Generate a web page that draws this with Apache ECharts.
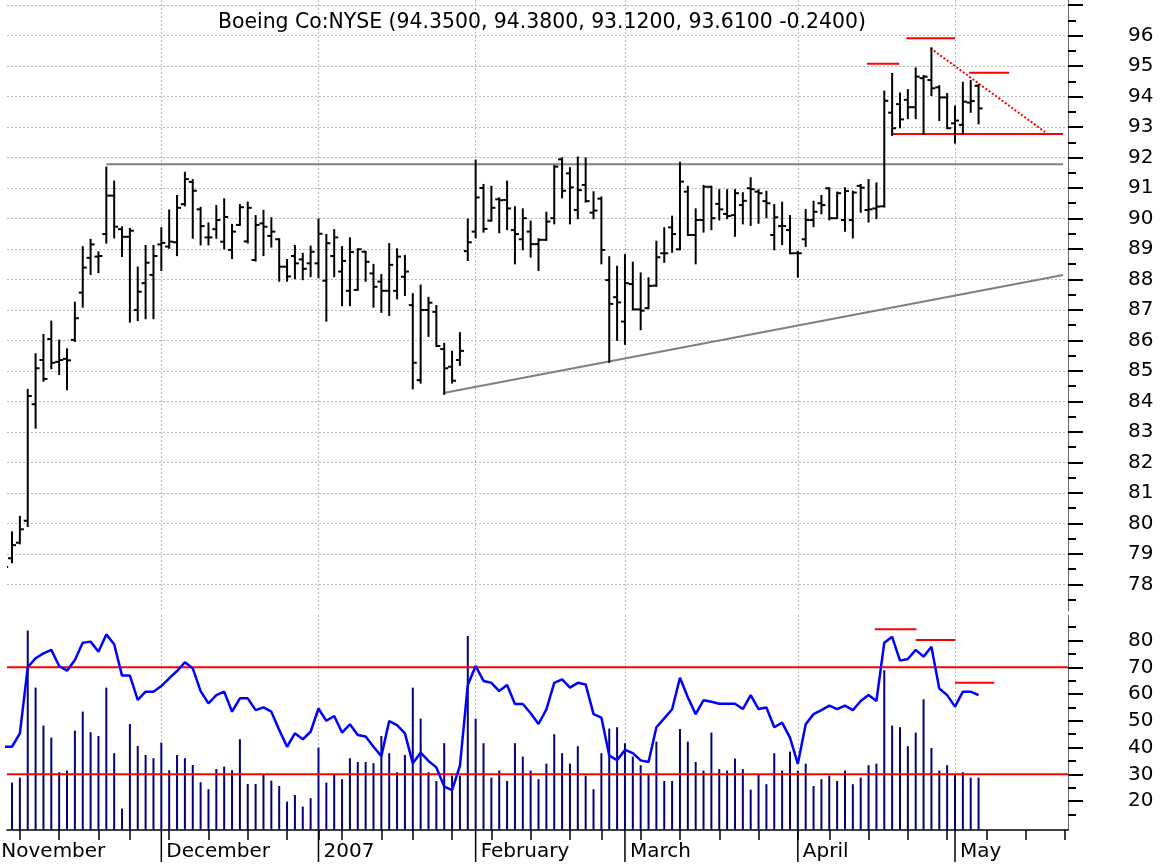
<!DOCTYPE html>
<html>
<head>
<meta charset="utf-8">
<title>Boeing Co:NYSE</title>
<script src="https://cdn.jsdelivr.net/npm/echarts@6/dist/echarts.min.js"></script>
<style>
html, body { margin: 0; padding: 0; background: #fff; }
#chart { width: 1163px; height: 867px; }
</style>
</head>
<body>
<div id="chart"></div>
<script>
// trading days, by month (categories of the x axis)
var nov06 = [1, 2, 3, 6, 7, 8, 9, 10, 13, 14, 15, 16, 17, 20, 21, 22, 24, 27, 28, 29, 30];
var dec06 = [1, 4, 5, 6, 7, 8, 11, 12, 13, 14, 15, 18, 19, 20, 21, 22, 26, 27, 28, 29];
var jan07 = [3, 4, 5, 8, 9, 10, 11, 12, 16, 17, 18, 19, 22, 23, 24, 25, 26, 29, 30, 31];
var feb07 = [1, 2, 5, 6, 7, 8, 9, 12, 13, 14, 15, 16, 20, 21, 22, 23, 26, 27, 28];
var mar07 = [1, 2, 5, 6, 7, 8, 9, 12, 13, 14, 15, 16, 19, 20, 21, 22, 23, 26, 27, 28, 29, 30];
var apr07 = [2, 3, 4, 5, 9, 10, 11, 12, 13, 16, 17, 18, 19, 20, 23, 24, 25, 26, 27, 30];
var may07 = [1, 2, 3, 4, 7, 8, 9, 10, 11, 14, 15, 16, 17, 18, 21, 22, 23];

// first bar of the data is Nov 2 (index 1)
var firstBar = 1;

var opens = [
    78.80, 78.86, 79.37, 80.09, 83.91, 85.36, 86.05, 85.30, 85.40, 86.02,
    87.57, 88.71, 88.75, 89.49, 90.75, 89.65, 89.40, 87.00, 87.88, 88.15,
    89.15, 89.08, 89.22, 90.47, 91.20, 90.30, 89.38, 89.65, 89.24, 88.97,
    89.79, 89.25, 88.64, 89.84, 89.43, 89.32, 88.42, 88.77, 88.66, 88.53,
    88.53, 87.96, 88.77, 88.26, 87.63, 87.66, 88.91, 88.20, 87.93, 87.63,
    87.63, 88.09, 87.16, 84.70, 87.00, 86.94, 85.72, 85.14, 85.36, 88.93,
    89.57, 91.00, 89.93, 90.63, 90.61, 89.62, 89.32, 89.57, 89.16, 89.30,
    90.01, 91.94, 91.48, 90.28, 91.10, 90.19, 90.65, 87.98, 87.42, 86.62,
    87.85, 87.02, 87.06, 87.80, 88.86, 89.71, 88.99, 90.88, 89.46, 89.95,
    91.04, 90.48, 90.15, 90.11, 90.44, 90.99, 90.88, 90.57, 89.46, 89.75,
    89.62, 88.86, 89.32, 89.95, 90.50, 90.99, 90.01, 89.95, 89.95, 91.07,
    90.28, 90.33, 90.40, 93.47, 93.75, 93.89, 93.65, 94.60, 94.54, 94.30,
    93.97, 93.12, 93.07, 93.80, 94.35
];
var highs = [
    79.00, 79.71, 80.22, 84.38, 85.55, 86.18, 86.62, 86.00, 85.71, 87.24,
    89.06, 89.30, 88.89, 91.67, 91.21, 89.71, 89.66, 88.39, 89.10, 89.10,
    89.68, 90.26, 90.74, 91.50, 91.26, 90.35, 89.84, 90.41, 90.63, 89.79,
    90.44, 90.52, 90.08, 90.25, 90.01, 89.32, 88.64, 89.10, 88.84, 89.08,
    89.97, 89.46, 89.62, 89.06, 89.35, 88.99, 88.91, 88.48, 88.15, 89.16,
    88.99, 88.77, 87.52, 87.80, 87.40, 87.13, 85.89, 85.63, 86.24, 89.97,
    91.90, 91.10, 91.04, 90.66, 91.21, 90.37, 90.30, 89.90, 89.32, 90.19,
    91.72, 91.97, 91.65, 92.00, 91.97, 90.86, 90.69, 88.73, 88.42, 88.80,
    88.55, 88.20, 88.04, 89.24, 89.68, 90.06, 91.83, 91.04, 90.30, 91.07,
    91.04, 90.93, 90.93, 90.93, 90.83, 91.32, 90.93, 90.88, 90.44, 90.52,
    90.08, 88.91, 90.28, 90.55, 90.74, 90.99, 90.85, 90.99, 90.88, 91.10,
    91.26, 91.15, 94.16, 94.74, 94.10, 94.21, 94.92, 94.67, 95.58, 94.34,
    94.08, 93.67, 94.45, 94.51, 94.38
];
var lows = [
    78.40, 78.73, 79.35, 79.92, 83.14, 84.68, 85.09, 84.90, 84.40, 85.98,
    87.11, 88.18, 88.24, 89.21, 89.38, 88.77, 86.62, 86.67, 86.73, 86.73,
    88.31, 89.04, 88.80, 90.43, 89.37, 89.15, 89.15, 89.37, 89.02, 88.70,
    89.79, 89.21, 88.62, 88.80, 89.08, 87.96, 87.96, 88.04, 88.01, 88.11,
    88.07, 86.65, 88.11, 87.16, 87.16, 87.66, 87.96, 87.11, 86.94, 86.84,
    87.38, 87.49, 84.43, 84.62, 86.15, 85.82, 84.25, 84.62, 85.20, 88.64,
    89.38, 89.57, 89.93, 89.55, 89.65, 88.53, 88.99, 88.75, 88.31, 89.30,
    89.84, 90.69, 89.84, 90.01, 90.55, 90.01, 88.53, 85.30, 86.02, 85.89,
    87.02, 86.37, 87.06, 87.79, 88.58, 88.91, 88.99, 89.46, 88.53, 89.57,
    89.65, 89.97, 90.01, 89.43, 89.84, 89.79, 89.86, 90.04, 88.99, 89.16,
    88.86, 88.09, 89.10, 89.75, 90.17, 89.97, 90.01, 89.60, 89.38, 90.22,
    89.90, 90.01, 90.39, 92.74, 92.99, 93.29, 93.29, 92.77, 94.05, 93.23,
    92.96, 92.49, 92.79, 93.50, 93.12
];
var closes = [
    78.57, 79.29, 79.81, 84.18, 85.09, 84.74, 85.27, 85.36, 85.35, 86.73,
    88.39, 89.15, 88.77, 90.75, 89.73, 89.40, 89.60, 87.60, 88.55, 88.77,
    89.20, 89.24, 90.35, 91.29, 90.91, 89.75, 89.38, 89.95, 90.05, 89.57,
    90.37, 90.35, 89.79, 89.73, 89.57, 88.42, 88.10, 88.53, 88.35, 88.91,
    89.50, 89.19, 89.38, 88.61, 88.90, 88.99, 88.58, 87.76, 87.63, 88.48,
    88.75, 88.26, 85.27, 87.00, 87.24, 85.82, 85.09, 84.68, 85.66, 89.22,
    90.69, 89.66, 90.35, 90.60, 90.33, 89.49, 90.01, 89.16, 89.30, 89.90,
    91.70, 90.91, 91.02, 90.93, 90.57, 90.26, 88.97, 87.20, 87.25, 87.88,
    87.02, 86.98, 87.79, 88.73, 88.86, 89.49, 91.21, 89.46, 89.95, 91.04,
    90.01, 90.30, 90.08, 90.83, 90.58, 90.96, 90.83, 90.50, 90.04, 89.75,
    88.86, 88.86, 89.95, 90.22, 90.44, 90.01, 90.83, 90.90, 90.85, 91.01,
    90.30, 90.39, 93.86, 92.96, 93.25, 93.65, 94.65, 94.65, 94.27, 93.97,
    92.96, 93.21, 93.83, 93.85, 93.61
];
// volume, millions of shares (first bar falls left of the chart)
var volumes = [
    null, 2.37, 2.62, 9.97, 7.12, 5.22, 4.62, 2.89, 2.97, 4.97,
    5.92, 4.89, 4.70, 7.12, 3.84, 1.07, 5.30, 4.20, 3.75, 3.59,
    4.37, 2.99, 3.75, 3.59, 3.25, 2.39, 2.04, 3.05, 3.17, 2.99,
    4.54, 2.30, 2.30, 2.80, 2.47, 2.20, 1.42, 1.75, 1.17, 1.59,
    4.12, 2.37, 2.80, 2.54, 3.59, 3.40, 3.40, 3.34, 4.70, 3.84,
    2.89, 3.75, 7.12, 5.57, 2.89, 2.45, 4.34, 2.72, 2.72, 9.70,
    5.57, 4.34, 2.62, 2.97, 2.45, 4.34, 3.67, 2.97, 2.54, 3.32,
    4.79, 3.84, 3.32, 4.19, 2.72, 2.04, 3.84, 5.07, 5.14, 4.34,
    3.67, 3.24, 2.80, 4.42, 2.45, 2.45, 5.05, 4.42, 3.40, 2.97,
    4.87, 3.05, 2.97, 3.57, 3.05, 2.02, 2.80, 2.29, 3.84, 2.97,
    3.92, 2.97, 3.32, 2.20, 2.54, 2.72, 2.45, 2.97, 2.29, 2.62,
    3.24, 3.32, 7.99, 5.22, 5.14, 4.19, 4.87, 6.54, 4.10, 2.97,
    3.24, 2.80, 2.89, 2.62, 2.62
];
var rsiValues = [
    40.3, 40.3, 45.3, 70.0, 73.4, 75.2, 76.5, 70.5, 68.7, 72.7,
    79.2, 79.6, 75.8, 82.3, 78.6, 66.9, 66.9, 57.8, 60.9, 60.9,
    63.0, 65.9, 68.6, 71.9, 69.6, 61.1, 56.5, 59.6, 60.9, 53.4,
    58.4, 58.4, 54.0, 55.0, 53.4, 46.6, 40.3, 45.3, 43.1, 45.9,
    54.6, 50.0, 51.8, 45.6, 48.7, 44.7, 44.1, 40.3, 36.8, 49.9,
    48.4, 45.3, 34.1, 38.1, 35.0, 32.6, 25.4, 24.1, 33.2, 63.4,
    70.5, 64.9, 64.2, 61.1, 63.4, 56.3, 56.3, 52.8, 48.8, 54.3,
    64.2, 65.5, 62.4, 64.2, 63.6, 52.5, 51.2, 37.0, 35.3, 39.1,
    37.9, 35.2, 34.6, 47.6, 50.9, 54.3, 66.1, 58.8, 52.5, 57.7,
    57.1, 56.4, 56.4, 56.4, 54.4, 59.6, 54.4, 55.0, 47.6, 49.3,
    43.7, 33.9, 48.7, 52.5, 54.0, 55.7, 54.4, 55.7, 54.0, 57.4,
    59.6, 57.4, 79.2, 81.4, 72.5, 73.1, 76.5, 74.0, 77.7, 62.1,
    59.6, 55.3, 60.9, 60.9, 59.6
];

// drawn studies, as [bar index, value] end points
var resistanceLine = [[14, 91.78], [135.75, 91.78]];
var trendLine = [[56.9, 84.28], [135.75, 88.15]];
var supportLine = [[114, 92.77], [135.75, 92.77]];
var wedgeLine = [[118.9, 95.58], [133.8, 92.77]];
var priceMarks = [
    [[110.8, 95.07], [114.9, 95.07]],
    [[115.8, 95.91], [122, 95.91]],
    [[123.8, 94.78], [128.9, 94.78]]
];
var rsiBands = [70, 30];
var rsiMarks = [
    [[111.8, 84.2], [117.1, 84.2]],
    [[117, 80.2], [122, 80.2]],
    [[122, 64.2], [127, 64.2]]
];

// axis ticks
var priceTicks = [78, 79, 80, 81, 82, 83, 84, 85, 86, 87, 88, 89, 90, 91, 92, 93, 94, 95, 96, 97];
var priceLabels = [78, 79, 80, 81, 82, 83, 84, 85, 86, 87, 88, 89, 90, 91, 92, 93, 94, 95, 96];
var priceMinorTicks = [77.5, 78.5, 79.5, 80.5, 81.5, 82.5, 83.5, 84.5, 85.5, 86.5, 87.5,
    88.5, 89.5, 90.5, 91.5, 92.5, 93.5, 94.5, 95.5, 96.5];
var rsiTicks = [20, 30, 40, 50, 60, 70, 80];
var rsiMinorTicks = [15, 25, 35, 45, 55, 65, 75, 85];

var monthNames = ['January', 'February', 'March', 'April', 'May', 'June', 'July',
    'August', 'September', 'October', 'November', 'December'];


// ///////////////////////////////////////////
// build dates, month starts, week starts
var dates = [];
[[2006, 10, nov06], [2006, 11, dec06], [2007, 0, jan07], [2007, 1, feb07],
 [2007, 2, mar07], [2007, 3, apr07], [2007, 4, may07]].forEach(function (m) {
    m[2].forEach(function (d) {
        dates.push(new Date(Date.UTC(m[0], m[1], d)));
    });
});

var monthStarts = [];
var monthLabels = [];
var weekStarts = [];
dates.forEach(function (dt, i) {
    var prev = dates[i - 1];
    if (!prev || prev.getUTCMonth() !== dt.getUTCMonth()) {
        monthStarts.push(i);
        monthLabels.push(dt.getUTCMonth() === 0 ? String(dt.getUTCFullYear()) : monthNames[dt.getUTCMonth()]);
    }
    if (prev && dt.getUTCDay() <= prev.getUTCDay()) {
        weekStarts.push(i);
    }
});

// ///////////////////////////////////////////
// series data
var ohlcData = [];
var volumeData = [];
var rsiData = [];
for (var k = 0; k < closes.length; k++) {
    var idx = k + firstBar;
    ohlcData.push([idx, opens[k], highs[k], lows[k], closes[k]]);
    if (volumes[k] !== null) {
        volumeData.push([idx, volumes[k]]);
    }
    rsiData.push([idx, rsiValues[k]]);
}

var last = closes.length - 1;
var titleText = 'Boeing Co:NYSE (' +
    [opens[last], highs[last], lows[last], closes[last]].map(function (v) { return v.toFixed(4); }).join(', ') +
    ' ' + (closes[last] - closes[last - 1]).toFixed(4) + ')';

// ///////////////////////////////////////////
// layout
var xMin = 1.3617;
var xMax = 136.38;
var priceMin = 77.131;
var priceMax = 97.164;
var rsiMin = 9.18;
var rsiMax = 89.55;
var volMax = 10.75;

var fontFamily = '"DejaVu Sans", Verdana, sans-serif';
var dotted = {color: '#b8b8b8', width: 1, type: [2, 2]};

function renderOhlc(params, api) {
    var i = api.value(0);
    var o = api.coord([i, api.value(1)]);
    var h = api.coord([i, api.value(2)]);
    var l = api.coord([i, api.value(3)]);
    var c = api.coord([i, api.value(4)]);
    var st = {stroke: '#000', lineWidth: 2};
    return {
        type: 'group',
        children: [
            {type: 'line', shape: {x1: h[0], y1: h[1] - 1, x2: h[0], y2: l[1] + 1}, style: st},
            {type: 'line', shape: {x1: o[0] - 4, y1: o[1], x2: o[0], y2: o[1]}, style: st},
            {type: 'line', shape: {x1: c[0], y1: c[1], x2: c[0] + 4, y2: c[1]}, style: st}
        ]
    };
}

function renderMonth(params, api) {
    var p = api.coord([api.value(0), rsiMin]);
    return {
        type: 'group',
        children: [
            {type: 'line', shape: {x1: p[0], y1: p[1], x2: p[0], y2: p[1] + 32},
             style: {stroke: '#000', lineWidth: 1.5}},
            {type: 'text', x: p[0] + 5, y: p[1] + 22,
             style: {text: monthLabels[params.dataIndex], font: '20px ' + fontFamily,
                     fill: '#000', align: 'left', verticalAlign: 'middle'}}
        ]
    };
}

function segment(name, data, xi, yi, color, width, type, z) {
    return {
        name: name, type: 'line', xAxisIndex: xi, yAxisIndex: yi,
        data: data, showSymbol: false, symbol: 'none', silent: true, z: z || 3,
        lineStyle: {color: color, width: width, type: type || 'solid'}
    };
}

var series = [
    {
        name: 'Boeing', type: 'custom', xAxisIndex: 0, yAxisIndex: 0,
        data: ohlcData, renderItem: renderOhlc, clip: true, z: 4,
        encode: {x: 0, y: [1, 2, 3, 4]}
    },
    segment('resistance', resistanceLine, 0, 0, '#808080', 2),
    segment('trend', trendLine, 0, 0, '#808080', 2),
    segment('support', supportLine, 0, 0, '#ff0000', 2),
    segment('wedge', wedgeLine, 0, 0, '#ff0000', 2, 'dotted'),
    {
        name: 'Volume', type: 'bar', xAxisIndex: 1, yAxisIndex: 4,
        data: volumeData, barWidth: 2, z: 1, silent: true,
        itemStyle: {color: '#000080'}
    },
    {
        name: 'RSI', type: 'line', xAxisIndex: 1, yAxisIndex: 2,
        data: rsiData, showSymbol: false, symbol: 'none', z: 5, silent: true,
        lineStyle: {color: '#0000ff', width: 2.5}
    },
    {
        name: 'months', type: 'custom', xAxisIndex: 1, yAxisIndex: 2,
        data: monthStarts.map(function (i) { return [i]; }),
        renderItem: renderMonth, clip: false, silent: true, z: 6,
        encode: {x: 0}
    }
];
priceMarks.forEach(function (m, n) {
    series.push(segment('peak' + n, m, 0, 0, '#ff0000', 2));
});
rsiBands.forEach(function (v) {
    series.push(segment('band' + v, [[xMin, v], [xMax, v]], 1, 2, '#ff0000', 2, 'solid', 2));
});
rsiMarks.forEach(function (m, n) {
    series.push(segment('rsiPeak' + n, m, 1, 2, '#ff0000', 2, 'solid', 2));
});

var chart = echarts.init(document.getElementById('chart'));
chart.setOption({
    animation: false,
    backgroundColor: '#fff',
    title: {
        text: titleText, left: 213, top: 8,
        textStyle: {fontFamily: fontFamily, fontSize: 20.4, fontWeight: 'normal', color: '#000'}
    },
    grid: [
        {left: 7, right: 95, top: 0, height: 611},
        {left: 7, right: 95, top: 615, height: 215}
    ],
    xAxis: [
        {
            gridIndex: 0, type: 'value', min: xMin, max: xMax,
            axisLine: {show: false},
            axisTick: {show: false, customValues: monthStarts},
            axisLabel: {show: false},
            splitLine: {show: true, lineStyle: dotted}
        },
        {
            gridIndex: 1, type: 'value', min: xMin, max: xMax,
            axisLine: {show: true, onZero: false, lineStyle: {color: '#000', width: 1.5}},
            axisTick: {show: true, customValues: weekStarts, length: 10, lineStyle: {color: '#000', width: 1.5}},
            axisLabel: {show: false},
            splitLine: {show: false}
        },
        {
            gridIndex: 1, type: 'value', min: xMin, max: xMax,
            axisLine: {show: false},
            axisTick: {show: false, customValues: monthStarts},
            axisLabel: {show: false},
            splitLine: {show: true, lineStyle: dotted}
        }
    ],
    yAxis: [
        {
            gridIndex: 0, type: 'value', position: 'right', min: priceMin, max: priceMax,
            axisLine: {show: true, lineStyle: {color: '#666', width: 1}},
            axisTick: {show: true, customValues: priceTicks, length: 15, lineStyle: {color: '#000', width: 2}},
            axisLabel: {show: true, customValues: priceLabels, margin: 60, color: '#000',
                        fontFamily: fontFamily, fontSize: 20, padding: [3, 0, 0, 0]},
            splitLine: {show: true, lineStyle: dotted}
        },
        {
            gridIndex: 0, type: 'value', position: 'right', min: priceMin, max: priceMax,
            axisLine: {show: false},
            axisTick: {show: true, customValues: priceMinorTicks, length: 8, lineStyle: {color: '#000', width: 2}},
            axisLabel: {show: false},
            splitLine: {show: false}
        },
        {
            gridIndex: 1, type: 'value', position: 'right', min: rsiMin, max: rsiMax,
            axisLine: {show: true, lineStyle: {color: '#666', width: 1}},
            axisTick: {show: true, customValues: rsiTicks, length: 15, lineStyle: {color: '#000', width: 2}},
            axisLabel: {show: true, customValues: rsiTicks, margin: 60, color: '#000',
                        fontFamily: fontFamily, fontSize: 20},
            splitLine: {show: false}
        },
        {
            gridIndex: 1, type: 'value', position: 'right', min: rsiMin, max: rsiMax,
            axisLine: {show: false},
            axisTick: {show: true, customValues: rsiMinorTicks, length: 8, lineStyle: {color: '#000', width: 2}},
            axisLabel: {show: false},
            splitLine: {show: false}
        },
        {
            gridIndex: 1, type: 'value', min: 0, max: volMax, show: false
        }
    ],
    series: series
});
</script>
</body>
</html>
